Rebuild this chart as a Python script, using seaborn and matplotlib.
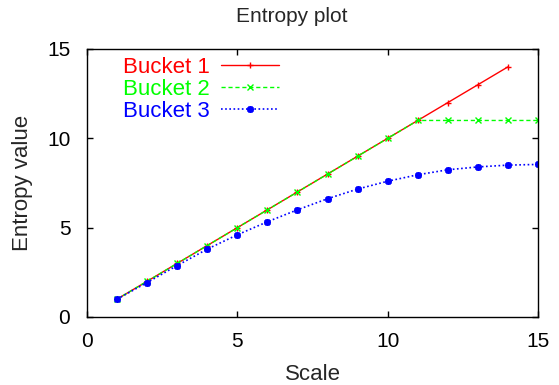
import matplotlib
matplotlib.use("Agg")
import matplotlib.pyplot as plt
import seaborn as sns

# Data
scale_b1 = [1, 2, 3, 4, 5, 6, 7, 8, 9, 10, 11, 12, 13, 14]
bucket1 = [1, 2, 3, 4, 5, 6, 7, 8, 9, 10, 11, 12, 13, 14]
scale_b2 = [1, 2, 3, 4, 5, 6, 7, 8, 9, 10, 11, 12, 13, 14, 15]
bucket2 = [1, 2, 3, 4, 5, 6, 7, 8, 9, 10, 11, 11, 11, 11, 11]
scale_b3 = [1, 2, 3, 4, 5, 6, 7, 8, 9, 10, 11, 12, 13, 14, 15]
bucket3 = [1.0, 1.93, 2.88, 3.8, 4.6, 5.33, 6.0, 6.62, 7.16, 7.6, 7.96, 8.24, 8.4, 8.5, 8.54]
x_ticks = [0, 5, 10, 15]
y_ticks = [0, 5, 10, 15]

sns.set_style("ticks")
plt.rcParams['font.family'] = ['Liberation Sans', 'DejaVu Sans']

W, H = 559, 385
fig = plt.figure(figsize=(W / 100, H / 100), dpi=100)
ax = fig.add_axes([87 / W, 1 - 317 / H, (538 - 87) / W, (317 - 49) / H])

styles = [
    dict(color="#ff0000", ls="-", lw=1.0, marker="+", ms=5, mew=1.0),
    dict(color="#00ff00", ls=(0, (3, 2)), lw=1.0, marker="x", ms=4, mew=1.0),
    dict(color="#0000ff", ls=(0, (1, 1.5)), lw=1.2, marker=(8, 2, 0), ms=5, mew=1.3),
]
series = [(scale_b1, bucket1, "Bucket 1"), (scale_b2, bucket2, "Bucket 2"),
          (scale_b3, bucket3, "Bucket 3")]

for (xs, ys, lab), st in zip(series, styles):
    sns.lineplot(x=xs, y=ys, ax=ax, color=st["color"], label=lab)
    ln = ax.lines[-1]
    ln.set_linestyle(st["ls"])
    ln.set_linewidth(st["lw"])
    ln.set_marker(st["marker"])
    ln.set_markersize(st["ms"])
    ln.set_markeredgewidth(st["mew"])
    ln.set_markeredgecolor(st["color"])
    ln.set_markerfacecolor(st["color"])

ax.set_xlim(0, 15)
ax.set_ylim(0, 15)
ax.set_xticks(x_ticks)
ax.set_yticks(y_ticks)
ax.tick_params(direction="in", top=True, right=True, length=4, width=1,
               labelsize=15, colors="black")
ax.tick_params(axis="x", pad=11)
ax.tick_params(axis="y", pad=12)
for s in ax.spines.values():
    s.set_visible(True)
    s.set_color("black")
    s.set_linewidth(1.0)

ax.set_xlabel("Scale", fontsize=16, labelpad=9)
ax.set_ylabel("Entropy value", fontsize=16, labelpad=10)
fig.text(292 / W, 1 - 17 / H, "Entropy plot", fontsize=15, ha="center", va="center")

ax.legend(loc="upper left", bbox_to_anchor=(0.06, 1.005), frameon=False,
          markerfirst=False, labelcolor="linecolor", fontsize=16,
          handlelength=2.6, handletextpad=0.5, labelspacing=0.05,
          borderaxespad=0.0)

fig.savefig("out.png", dpi=100)
